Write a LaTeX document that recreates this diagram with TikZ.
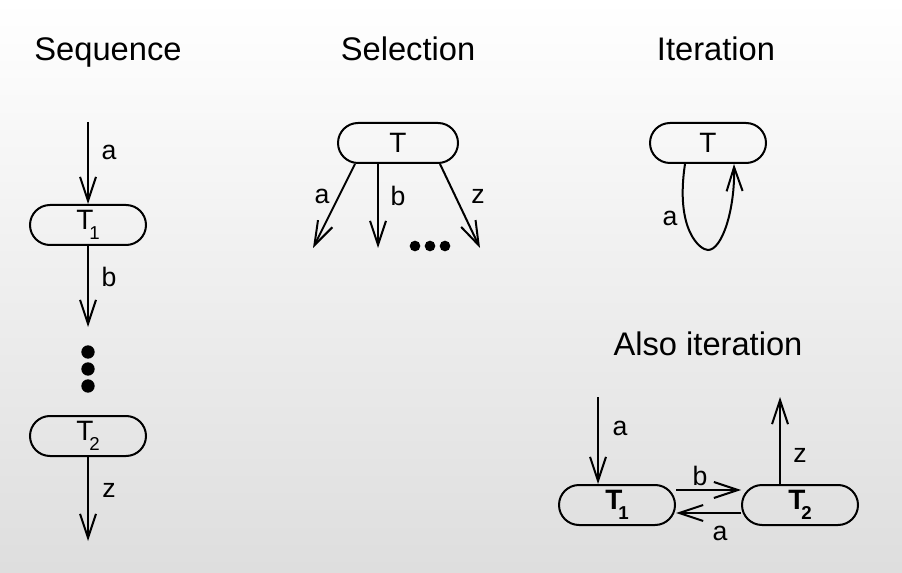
\documentclass[tikz,border=0pt]{standalone}
\usepackage{fontspec}
\setmainfont{Liberation Sans}
\usetikzlibrary{arrows.meta}
\newcommand{\Tsub}[1]{T\kern-3pt\raisebox{-7pt}{\fontsize{14}{15}\selectfont #1}}
\begin{document}
\begin{tikzpicture}[x=0.75pt,y=-0.75pt,
  ar/.style={line width=1.5pt,-{Straight Barb[length=18pt,width=12pt,line width=1.5pt]}},
  box/.style={draw,line width=1.5pt,rounded corners=15pt,minimum width=87pt,minimum height=30pt,inner sep=0pt,font=\fontsize{21}{22}\selectfont},
  lab/.style={font=\fontsize{20}{22}\selectfont},
  ttl/.style={font=\fontsize{24.5}{28}\selectfont,anchor=base},
  dot/.style={circle,fill,inner sep=0pt,minimum size=10pt}]
\shade[top color=white,bottom color=black!13] (0,0) rectangle (902,573);
\useasboundingbox (0,0) rectangle (902,573);
% titles
\node[ttl] (t1) at (108,61) {Sequence};
\node[ttl] (t2) at (408,61) {Selection};
\node[ttl] (t3) at (716,61) {Iteration};
\node[ttl] (t4) at (708,355) {Also iteration};
% sequence
\coordinate (s0) at (88,122);
\node[box] (T1) at (88,225) {\Tsub{1}};
\node[box] (T2) at (88,436) {\Tsub{2}};
\coordinate (s1) at (88,327);
\coordinate (s2) at (88,541);
\draw[ar] (s0) -- (T1.north);
\draw[ar] (T1.south) -- (s1);
\draw[ar] (T2.south) -- (s2);
\node[lab] (la) at (109,152) {a};
\node[lab] (lb) at (109,277) {b};
\node[lab] (lz) at (109,490) {z};
\node[dot] (d1) at (88,352) {};
\node[dot] (d2) at (88,369) {};
\node[dot] (d3) at (88,386) {};
% selection
\node[box,minimum width=90pt] (S) at (398,143) {T};
\coordinate (sa) at (313,248);
\coordinate (sb) at (378,248);
\coordinate (sz) at (480,248);
\draw[ar] (S.south -| 355,0) -- (sa);
\draw[ar] (S.south -| 378,0) -- (sb);
\draw[ar] (S.south -| 440,0) -- (sz);
\node[lab] (sla) at (322,196) {a};
\node[lab] (slb) at (398,196) {b};
\node[lab] (slz) at (478,196) {z};
\node[dot,minimum size=8pt] (e1) at (415,246) {};
\node[dot,minimum size=8pt] (e2) at (430,246) {};
\node[dot,minimum size=8pt] (e3) at (445,246) {};
% iteration
\node[box] (I) at (708,143) {T};
\draw[ar] (I.south -| 685,0) .. controls (675,230) and (700,250) .. (708,250)
  .. controls (722,250) and (735,210) .. (I.south -| 734,0);
\node[lab] (ila) at (670,218) {a};
% also iteration
\node[box] (A1) at (617,505) {\textbf{\Tsub{1}}};
\node[box] (A2) at (800,505) {\textbf{\Tsub{2}}};
\coordinate (a0) at (598,397);
\coordinate (a3) at (780,397);
\draw[ar] (a0) -- (A1.north -| a0);
\draw[ar] (A1.east |- 0,490) -- (A2.west |- 0,490);
\draw[ar] (A2.west |- 0,513) -- (A1.east |- 0,513);
\draw[ar] (A2.north -| a3) -- (a3);
\node[lab] (ala) at (620,428) {a};
\node[lab] (alb) at (700,476) {b};
\node[lab] (ala2) at (720,533) {a};
\node[lab] (alz) at (800,455) {z};
\end{tikzpicture}
\end{document}
